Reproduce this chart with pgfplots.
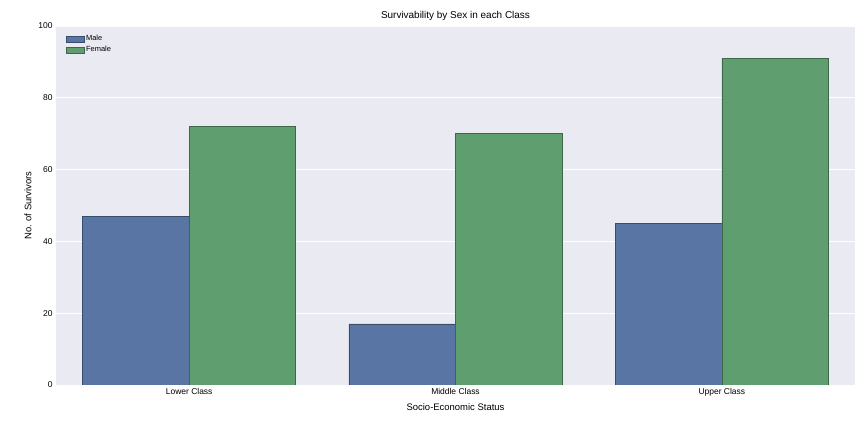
\documentclass[border=0pt]{standalone}
\usepackage{pgfplots}
\pgfplotsset{compat=1.18}
\usepackage{fontspec}
\setmainfont{Liberation Sans}
\definecolor{sbblue}{HTML}{5975A4}
\definecolor{sbgreen}{HTML}{5F9E6E}
\definecolor{sbbg}{HTML}{EAEAF2}
\begin{document}
\begin{tikzpicture}
\begin{axis}[
  at={(0,0)}, anchor=south west,
  scale only axis, width=799bp, height=359bp,
  xmin=-0.5, xmax=2.5, ymin=0, ymax=100,
  axis background/.style={fill=sbbg},
  axis line style={draw=none},
  major tick length=0pt,
  ymajorgrids, grid style={white, line width=0.8pt},
  xtick={0,1,2}, xticklabels={Lower Class,Middle Class,Upper Class},
  ytick={0,20,40,60,80,100},
  tick label style={font=\fontsize{8.5}{10}\selectfont},
  /pgf/number format/assume math mode=true,
  xlabel={Socio-Economic Status}, ylabel={No. of Survivors},
  label style={font=\fontsize{9.5}{11}\selectfont},
  title={Survivability by Sex in each Class},
  title style={font=\fontsize{10}{12}\selectfont, yshift=-4bp},
  ybar=0pt, bar width=0.4,
  legend style={at={(0.008,0.985)}, anchor=north west, draw=none, fill=none, font=\fontsize{7.5}{9}\selectfont},
  legend cell align=left,
  legend image code/.code={\draw[#1] (0bp,-3bp) rectangle (18bp,3bp);},
]
\addplot[fill=sbblue, draw=sbblue!65!black, line width=0.5pt] coordinates {(0,47) (1,17) (2,45)};
\addplot[fill=sbgreen, draw=sbgreen!65!black, line width=0.5pt] coordinates {(0,72) (1,70) (2,91)};
\legend{Male,Female}
\end{axis}
\pgfresetboundingbox
\path (-56bp,-47bp) rectangle (808bp,385bp);
\end{tikzpicture}
\end{document}
